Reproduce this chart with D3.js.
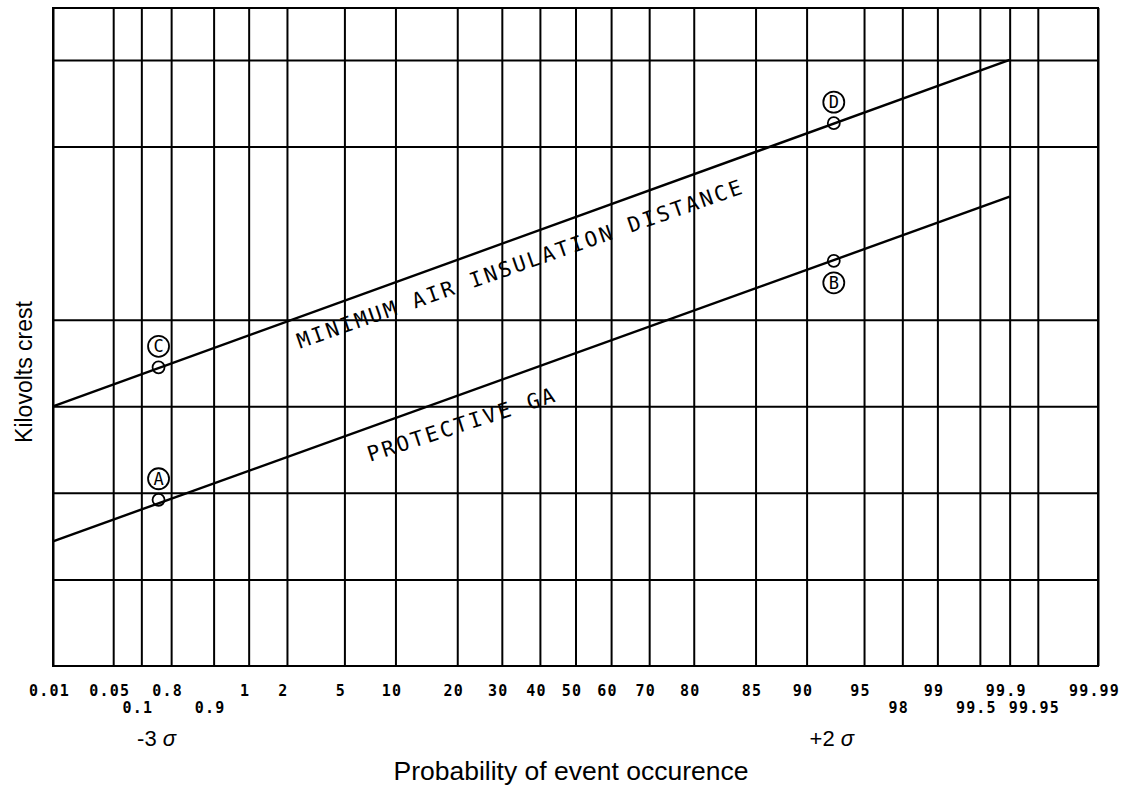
<!DOCTYPE html>
<html>
<head>
<meta charset="utf-8">
<script src="https://cdn.jsdelivr.net/npm/d3@7"></script>
<style>
  html, body { margin: 0; padding: 0; background: #fff; }
  svg { display: block; }
</style>
</head>
<body>
<svg id="chart" width="1131" height="787"></svg>
<script>
// ---------------- DATA ----------------
// Probability grid lines (percent)
const gridProb = [0.01, 0.05, 0.1, 0.2, 0.5, 1, 2, 5, 10, 20, 30, 40, 50, 60, 70, 80, 90, 95, 98, 99, 99.5, 99.8, 99.9, 99.95, 99.99];
// Tick labels as printed (first row / second row), attached to grid lines
const tickRow1Prob = [0.01, 0.05, 0.2, 1, 2, 5, 10, 20, 30, 40, 50, 60, 70, 80, 90, 95, 98, 99.5, 99.9, 99.99];
const tickRow1Text = ["0.01", "0.05", "0.8", "1", "2", "5", "10", "20", "30", "40", "50", "60", "70", "80", "85", "90", "95", "99", "99.9", "99.99"];
const tickRow2Prob = [0.1, 0.5, 99, 99.8, 99.95];
const tickRow2Text = ["0.1", "0.9", "98", "99.5", "99.95"];
// Kilovolt grid lines (relative units, no printed labels)
const kvGrid = [1, 2, 3, 4, 6, 7];
const kvDomain = [0, 7.6];
// Lines
const minAirProb = [0.01, 99.9];
const minAirKv = [3.0, 7.0];
const protProb = [0.01, 99.9];
const protKv = [1.44, 5.42];
const curveNames = ["MINIMUM AIR INSULATION DISTANCE", "PROTECTIVE GA"];
const curveLabelProb = [2.49, 7.18];
const curveLabelKv = [3.665, 2.358];
// Marked points
const pointNames = ["A", "B", "C", "D"];
const pointProb = [0.15, 96.7, 0.15, 96.7];
const pointKv = [1.92, 4.68, 3.45, 6.27];
const pointTagBelow = [false, true, false, false];
// Sigma annotations
const sigmaNum = ["-3", "+2"];
const sigmaProb = [0.15, 96.7];
const xTitle = "Probability of event occurence";
const yTitle = "Kilovolts crest";

// ---------------- HELPERS ----------------
function qnorm(p) {
  const a=[-3.969683028665376e+01,2.209460984245205e+02,-2.759285104469687e+02,1.383577518672690e+02,-3.066479806614716e+01,2.506628277459239e+00];
  const b=[-5.447609879822406e+01,1.615858368580409e+02,-1.556989798598866e+02,6.680131188771972e+01,-1.328068155288572e+01];
  const c=[-7.784894002430293e-03,-3.223964580411365e-01,-2.400758277161838e+00,-2.549732539343734e+00,4.374664141464968e+00,2.938163982698783e+00];
  const d=[7.784695709041462e-03,3.224671290700398e-01,2.445134137142996e+00,3.754408661907416e+00];
  const pl = 0.02425, ph = 1 - pl;
  let q, r;
  if (p < pl) { q = Math.sqrt(-2*Math.log(p)); return (((((c[0]*q+c[1])*q+c[2])*q+c[3])*q+c[4])*q+c[5])/((((d[0]*q+d[1])*q+d[2])*q+d[3])*q+1); }
  if (p <= ph) { q = p - 0.5; r = q*q; return (((((a[0]*r+a[1])*r+a[2])*r+a[3])*r+a[4])*r+a[5])*q/(((((b[0]*r+b[1])*r+b[2])*r+b[3])*r+b[4])*r+1); }
  q = Math.sqrt(-2*Math.log(1-p)); return -(((((c[0]*q+c[1])*q+c[2])*q+c[3])*q+c[4])*q+c[5])/((((d[0]*q+d[1])*q+d[2])*q+d[3])*q+1);
}
const z = p => qnorm(p / 100);

// ---------------- LAYOUT ----------------
const pLeft = 53, pRight = 1098, pTop = 8, pBottom = 666;
const svg = d3.select("#chart");
svg.append("rect").attr("width", 1131).attr("height", 787).attr("fill", "#fff");

const zScale = d3.scaleLinear().domain([z(gridProb[0]), z(gridProb[gridProb.length - 1])]).range([pLeft, pRight]);
const xs = p => zScale(z(p));
const yScale = d3.scaleLinear().domain(kvDomain).range([pBottom, pTop]);

// Grid (vertical)
const gx = svg.append("g").attr("transform", `translate(0,${pBottom})`)
  .call(d3.axisBottom(zScale).tickValues(gridProb.map(z)).tickSize(-(pBottom - pTop)).tickFormat(""));
gx.select(".domain").remove();
gx.selectAll(".tick line").attr("stroke", "#000").attr("stroke-width", 2);

// Grid (horizontal)
const gy = svg.append("g").attr("transform", `translate(${pLeft},0)`)
  .call(d3.axisLeft(yScale).tickValues(kvGrid).tickSize(-(pRight - pLeft)).tickFormat(""));
gy.select(".domain").remove();
gy.selectAll(".tick line").attr("stroke", "#000").attr("stroke-width", 2);

// Border
svg.append("rect").attr("x", pLeft).attr("y", pTop).attr("width", pRight - pLeft).attr("height", pBottom - pTop)
  .attr("fill", "none").attr("stroke", "#000").attr("stroke-width", 2);

// Tick label rows
function labelRow(probs, texts, dy) {
  const ax = svg.append("g").attr("transform", `translate(-4,${pBottom})`)
    .call(d3.axisBottom(zScale).tickValues(probs.map(z)).tickSize(0).tickPadding(0)
      .tickFormat((d, i) => texts[i]));
  ax.select(".domain").remove();
  ax.selectAll(".tick text")
    .attr("y", dy).attr("dy", 0)
    .attr("fill", "#000")
    .style("font-family", "'DejaVu Sans Mono', monospace")
    .style("font-size", "15px")
    .style("font-weight", "bold")
    .style("letter-spacing", "1.2px");
}
labelRow(tickRow1Prob, tickRow1Text, 30);
labelRow(tickRow2Prob, tickRow2Text, 47);

// Lines
const line = d3.line().x(d => xs(d[0])).y(d => yScale(d[1]));
svg.append("path").datum(minAirProb.map((p, i) => [p, minAirKv[i]]))
  .attr("d", line).attr("fill", "none").attr("stroke", "#000").attr("stroke-width", 2.4);
svg.append("path").datum(protProb.map((p, i) => [p, protKv[i]]))
  .attr("d", line).attr("fill", "none").attr("stroke", "#000").attr("stroke-width", 2.4);

// Curve labels
const curveAngles = [-19.3, -18.0];
curveNames.forEach((t, i) => {
  const x = xs(curveLabelProb[i]), y = yScale(curveLabelKv[i]);
  svg.append("text").attr("transform", `translate(${x},${y}) rotate(${curveAngles[i]})`)
    .attr("fill", "#000")
    .style("font-family", "'DejaVu Sans Mono', monospace")
    .style("font-size", "21px")
    .style("letter-spacing", "2.6px")
    .text(t);
});

// Points with letter tags
pointNames.forEach((n, i) => {
  const x = xs(pointProb[i]), y = yScale(pointKv[i]);
  svg.append("circle").attr("cx", x).attr("cy", y).attr("r", 6)
    .attr("fill", "none").attr("stroke", "#000").attr("stroke-width", 1.8);
  const ty = pointTagBelow[i] ? y + 22 : y - 21;
  svg.append("circle").attr("cx", x).attr("cy", ty).attr("r", 10.5)
    .attr("fill", "#fff").attr("stroke", "#000").attr("stroke-width", 1.8);
  svg.append("text").attr("x", x).attr("y", ty).attr("dy", "0.36em")
    .attr("text-anchor", "middle").attr("fill", "#000")
    .style("font-family", "'DejaVu Sans Mono', monospace")
    .style("font-size", "17px")
    .text(n);
});

// Sigma annotations
sigmaNum.forEach((t, i) => {
  const tx = svg.append("text").attr("x", xs(sigmaProb[i]) - 2).attr("y", 746)
    .attr("text-anchor", "middle").attr("fill", "#000")
    .style("font-family", "'Liberation Sans', Arial, sans-serif")
    .style("font-size", "22px");
  tx.append("tspan").text(t + " ");
  tx.append("tspan").style("font-style", "italic").text("\u03C3");
});

// Axis titles
svg.append("text").attr("x", 571).attr("y", 780).attr("text-anchor", "middle").attr("fill", "#000")
  .style("font-family", "'Liberation Sans', Arial, sans-serif").style("font-size", "26.5px")
  .text(xTitle);
svg.append("text").attr("transform", "translate(32,372) rotate(-90)").attr("text-anchor", "middle").attr("fill", "#000")
  .style("font-family", "'Liberation Sans', Arial, sans-serif").style("font-size", "23px")
  .text(yTitle);
</script>
</body>
</html>
